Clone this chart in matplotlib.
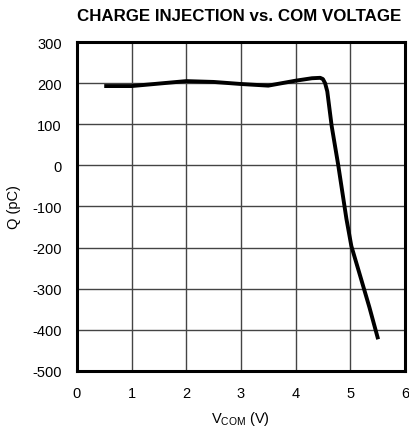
import matplotlib
matplotlib.use("Agg")
import matplotlib.pyplot as plt

# values
vcom = [0.5, 1.0, 1.5, 2.0, 2.5, 3.0, 3.5, 4.0, 4.3, 4.45, 4.5, 4.54, 4.58, 4.66, 4.78, 4.93, 5.02, 5.18, 5.35, 5.51]
charge = [193, 193, 199, 205, 203, 198, 194, 206, 212, 213, 210, 200, 180, 96, 1, -130, -196, -268, -345, -423]

x_ticks = [0, 1, 2, 3, 4, 5, 6]
y_ticks = [-500, -400, -300, -200, -100, 0, 100, 200, 300]

plt.rcParams['font.family'] = ['Liberation Sans', 'DejaVu Sans']
plt.rcParams['axes.unicode_minus'] = False

fig = plt.figure(figsize=(4.09, 4.35), dpi=100)
ax = fig.add_axes([0.188, 0.145, 0.802, 0.756])

ax.plot(vcom, charge, color='k', linewidth=2.8, solid_joinstyle='round', solid_capstyle='butt')

ax.set_xlim(0, 6)
ax.set_ylim(-500, 300)
ax.set_xticks(x_ticks)
ax.set_yticks(y_ticks)
ax.grid(True, color='#444444', linewidth=1.0)
ax.tick_params(length=0, labelsize=10.5, pad=11)
for s in ax.spines.values():
    s.set_linewidth(2.2)

ax.set_xlabel(r"V$_{\mathregular{COM}}$ (V)", fontsize=10.5, labelpad=6)
ax.set_ylabel("Q (pC)", fontsize=10.5, labelpad=8)
fig.text(0.585, 0.962, "CHARGE INJECTION vs. COM VOLTAGE", ha='center', va='center',
         fontsize=12.2, fontweight='bold')

fig.savefig("out.png", dpi=100)
